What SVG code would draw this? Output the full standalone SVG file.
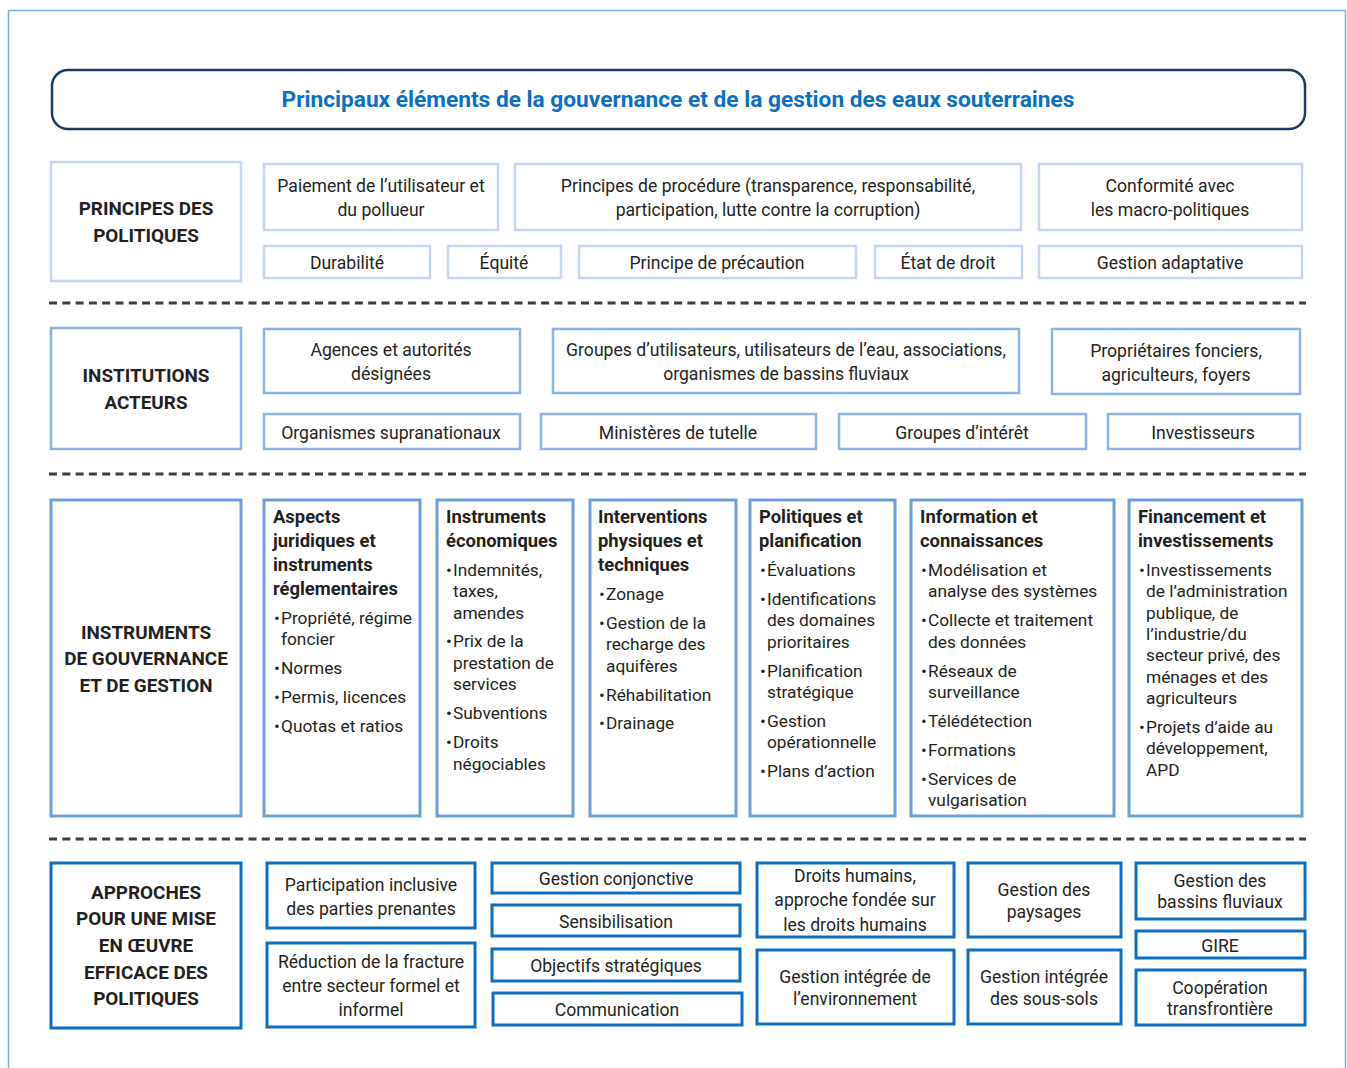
<svg xmlns="http://www.w3.org/2000/svg" width="1347" height="1068" viewBox="0 0 1347 1068">
<style>
text{font-family:Roboto,"Liberation Sans",sans-serif;fill:#231f20;font-size:17.6px}
.col text{font-size:17.3px}
.c{text-anchor:middle}
.lbl{font-weight:bold;font-size:18.9px !important;text-anchor:middle}
.col text.h{font-weight:bold;font-size:18.4px}
.title{font-weight:bold;font-size:22.7px;fill:#0b6fc1;text-anchor:middle}
.r1{fill:#fff;stroke:#c6d6ef;stroke-width:2.5}
.r2{fill:#fff;stroke:#8db3e2;stroke-width:2.5}
.r3{fill:#fff;stroke:#6a9fd8;stroke-width:3}
.r4{fill:#fff;stroke:#0b6fc1;stroke-width:3}
.dash{stroke:#3d3d3d;stroke-width:3;stroke-dasharray:8 5.3;fill:none}
</style>
<rect width="1347" height="1068" fill="#fff"/>
<path d="M8.5 1068 V10.5 H1345.5 V1068" fill="none" stroke="#7aaee0" stroke-width="1.5"/>

<g id="title">
<rect x="52" y="70" width="1253" height="59" rx="16" fill="#fff" stroke="#1d3b5e" stroke-width="2.5"/>
<text class="title" x="678" y="107">Principaux éléments de la gouvernance et de la gestion des eaux souterraines</text>
</g>

<g id="separators">
<line class="dash" x1="49" y1="303" x2="1306" y2="303"/>
<line class="dash" x1="49" y1="474" x2="1306" y2="474"/>
<line class="dash" x1="49" y1="839" x2="1306" y2="839"/>
</g>

<!-- Row 1 -->
<g id="principes"><rect class="r1" x="51" y="162" width="190" height="119"/>
<text class="lbl" x="146" y="215">PRINCIPES DES</text><text class="lbl" x="146" y="242">POLITIQUES</text></g>
<g id="paiement"><rect class="r1" x="264" y="164" width="234" height="66"/>
<text class="c" x="381" y="192">Paiement de l’utilisateur et</text><text class="c" x="381" y="216">du pollueur</text></g>
<g id="procedure"><rect class="r1" x="515" y="164" width="506" height="66"/>
<text class="c" x="768" y="192">Principes de procédure (transparence, responsabilité,</text><text class="c" x="768" y="216">participation, lutte contre la corruption)</text></g>
<g id="conformite"><rect class="r1" x="1039" y="164" width="263" height="66"/>
<text class="c" x="1170" y="192">Conformité avec</text><text class="c" x="1170" y="216">les macro-politiques</text></g>
<g id="durabilite"><rect class="r1" x="264" y="246" width="166" height="32"/><text class="c" x="347" y="269">Durabilité</text></g>
<g id="equite"><rect class="r1" x="448" y="246" width="113" height="32"/><text class="c" x="504" y="269">Équité</text></g>
<g id="precaution"><rect class="r1" x="579" y="246" width="277" height="32"/><text class="c" x="717" y="269">Principe de précaution</text></g>
<g id="etat"><rect class="r1" x="875" y="246" width="147" height="32"/><text class="c" x="948" y="269">État de droit</text></g>
<g id="adaptative"><rect class="r1" x="1039" y="246" width="263" height="32"/><text class="c" x="1170" y="269">Gestion adaptative</text></g>

<!-- Row 2 -->
<g id="institutions"><rect class="r2" x="51" y="328" width="190" height="121"/>
<text class="lbl" x="146" y="382">INSTITUTIONS</text><text class="lbl" x="146" y="409">ACTEURS</text></g>
<g id="agences"><rect class="r2" x="264" y="329" width="256" height="64"/>
<text class="c" x="391" y="356">Agences et autorités</text><text class="c" x="391" y="380">désignées</text></g>
<g id="groupes-util"><rect class="r2" x="553" y="329" width="466" height="64"/>
<text class="c" x="786" y="356">Groupes d’utilisateurs, utilisateurs de l’eau, associations,</text><text class="c" x="786" y="380">organismes de bassins fluviaux</text></g>
<g id="proprietaires"><rect class="r2" x="1052" y="329" width="248" height="65"/>
<text class="c" x="1176" y="357">Propriétaires fonciers,</text><text class="c" x="1176" y="381">agriculteurs, foyers</text></g>
<g id="supranationaux"><rect class="r2" x="264" y="414" width="256" height="35"/><text class="c" x="391" y="439">Organismes supranationaux</text></g>
<g id="ministeres"><rect class="r2" x="541" y="414" width="275" height="35"/><text class="c" x="678" y="439">Ministères de tutelle</text></g>
<g id="interet"><rect class="r2" x="839" y="414" width="247" height="35"/><text class="c" x="962" y="439">Groupes d’intérêt</text></g>
<g id="investisseurs"><rect class="r2" x="1108" y="414" width="192" height="35"/><text class="c" x="1203" y="439">Investisseurs</text></g>

<!-- Row 3 -->
<g id="instruments"><rect class="r3" x="51" y="500" width="190" height="316"/>
<text class="lbl" x="146" y="639">INSTRUMENTS</text><text class="lbl" x="146" y="665">DE GOUVERNANCE</text><text class="lbl" x="146" y="692">ET DE GESTION</text></g>

<g id="juridiques" class="col"><rect class="r3" x="264" y="500" width="156" height="316"/>
<text class="h" x="273" y="523">Aspects</text>
<text class="h" x="273" y="547">juridiques et</text>
<text class="h" x="273" y="571">instruments</text>
<text class="h" x="273" y="595">réglementaires</text>
<text y="624"><tspan x="274">•</tspan><tspan x="281">Propriété, régime</tspan></text>
<text x="281" y="645">foncier</text>
<text y="674"><tspan x="274">•</tspan><tspan x="281">Normes</tspan></text>
<text y="703"><tspan x="274">•</tspan><tspan x="281">Permis, licences</tspan></text>
<text y="732"><tspan x="274">•</tspan><tspan x="281">Quotas et ratios</tspan></text></g>

<g id="economiques" class="col"><rect class="r3" x="437" y="500" width="136" height="316"/>
<text class="h" x="446" y="523">Instruments</text>
<text class="h" x="446" y="547">économiques</text>
<text y="576"><tspan x="446">•</tspan><tspan x="453">Indemnités,</tspan></text>
<text x="453" y="597">taxes,</text>
<text x="453" y="619">amendes</text>
<text y="647"><tspan x="446">•</tspan><tspan x="453">Prix de la</tspan></text>
<text x="453" y="669">prestation de</text>
<text x="453" y="690">services</text>
<text y="719"><tspan x="446">•</tspan><tspan x="453">Subventions</tspan></text>
<text y="748"><tspan x="446">•</tspan><tspan x="453">Droits</tspan></text>
<text x="453" y="770">négociables</text></g>

<g id="interventions" class="col"><rect class="r3" x="590" y="500" width="146" height="316"/>
<text class="h" x="598" y="523">Interventions</text>
<text class="h" x="598" y="547">physiques et</text>
<text class="h" x="598" y="571">techniques</text>
<text y="600"><tspan x="599">•</tspan><tspan x="606">Zonage</tspan></text>
<text y="629"><tspan x="599">•</tspan><tspan x="606">Gestion de la</tspan></text>
<text x="606" y="650">recharge des</text>
<text x="606" y="672">aquifères</text>
<text y="701"><tspan x="599">•</tspan><tspan x="606">Réhabilitation</tspan></text>
<text y="729"><tspan x="599">•</tspan><tspan x="606">Drainage</tspan></text></g>

<g id="politiques" class="col"><rect class="r3" x="750" y="500" width="145" height="316"/>
<text class="h" x="759" y="523">Politiques et</text>
<text class="h" x="759" y="547">planification</text>
<text y="576"><tspan x="760">•</tspan><tspan x="767">Évaluations</tspan></text>
<text y="605"><tspan x="760">•</tspan><tspan x="767">Identifications</tspan></text>
<text x="767" y="626">des domaines</text>
<text x="767" y="648">prioritaires</text>
<text y="677"><tspan x="760">•</tspan><tspan x="767">Planification</tspan></text>
<text x="767" y="698">stratégique</text>
<text y="727"><tspan x="760">•</tspan><tspan x="767">Gestion</tspan></text>
<text x="767" y="748">opérationnelle</text>
<text y="777"><tspan x="760">•</tspan><tspan x="767">Plans d’action</tspan></text></g>

<g id="information" class="col"><rect class="r3" x="911" y="500" width="203" height="316"/>
<text class="h" x="920" y="523">Information et</text>
<text class="h" x="920" y="547">connaissances</text>
<text y="576"><tspan x="921">•</tspan><tspan x="928">Modélisation et</tspan></text>
<text x="928" y="597">analyse des systèmes</text>
<text y="626"><tspan x="921">•</tspan><tspan x="928">Collecte et traitement</tspan></text>
<text x="928" y="648">des données</text>
<text y="677"><tspan x="921">•</tspan><tspan x="928">Réseaux de</tspan></text>
<text x="928" y="698">surveillance</text>
<text y="727"><tspan x="921">•</tspan><tspan x="928">Télédétection</tspan></text>
<text y="756"><tspan x="921">•</tspan><tspan x="928">Formations</tspan></text>
<text y="785"><tspan x="921">•</tspan><tspan x="928">Services de</tspan></text>
<text x="928" y="806">vulgarisation</text></g>

<g id="financement" class="col"><rect class="r3" x="1129" y="500" width="173" height="316"/>
<text class="h" x="1138" y="523">Financement et</text>
<text class="h" x="1138" y="547">investissements</text>
<text y="576"><tspan x="1139">•</tspan><tspan x="1146">Investissements</tspan></text>
<text x="1146" y="597">de l’administration</text>
<text x="1146" y="619">publique, de</text>
<text x="1146" y="640">l’industrie/du</text>
<text x="1146" y="661">secteur privé, des</text>
<text x="1146" y="683">ménages et des</text>
<text x="1146" y="704">agriculteurs</text>
<text y="733"><tspan x="1139">•</tspan><tspan x="1146">Projets d’aide au</tspan></text>
<text x="1146" y="754">développement,</text>
<text x="1146" y="776">APD</text></g>

<!-- Row 4 -->
<g id="approches"><rect class="r4" x="51" y="863" width="190" height="165"/>
<text class="lbl" x="146" y="899">APPROCHES</text><text class="lbl" x="146" y="925">POUR UNE MISE</text><text class="lbl" x="146" y="952">EN ŒUVRE</text><text class="lbl" x="146" y="979">EFFICACE DES</text><text class="lbl" x="146" y="1005">POLITIQUES</text></g>
<g id="participation"><rect class="r4" x="267" y="863" width="208" height="65"/>
<text class="c" x="371" y="891">Participation inclusive</text><text class="c" x="371" y="915">des parties prenantes</text></g>
<g id="reduction"><rect class="r4" x="267" y="943" width="208" height="84"/>
<text class="c" x="371" y="968">Réduction de la fracture</text><text class="c" x="371" y="992">entre secteur formel et</text><text class="c" x="371" y="1016">informel</text></g>
<g id="conjonctive"><rect class="r4" x="492" y="863" width="248" height="30"/><text class="c" x="616" y="885">Gestion conjonctive</text></g>
<g id="sensibilisation"><rect class="r4" x="492" y="905" width="248" height="31"/><text class="c" x="616" y="928">Sensibilisation</text></g>
<g id="objectifs"><rect class="r4" x="492" y="949" width="248" height="32"/><text class="c" x="616" y="972">Objectifs stratégiques</text></g>
<g id="communication"><rect class="r4" x="493" y="993" width="249" height="32"/><text class="c" x="617" y="1016">Communication</text></g>
<g id="droits"><rect class="r4" x="757" y="863" width="197" height="74"/>
<text class="c" x="855" y="882">Droits humains,</text><text class="c" x="855" y="906">approche fondée sur</text><text class="c" x="855" y="931">les droits humains</text></g>
<g id="environnement"><rect class="r4" x="757" y="950" width="197" height="74"/>
<text class="c" x="855" y="983">Gestion intégrée de</text><text class="c" x="855" y="1005">l’environnement</text></g>
<g id="paysages"><rect class="r4" x="968" y="863" width="153" height="74"/>
<text class="c" x="1044" y="896">Gestion des</text><text class="c" x="1044" y="918">paysages</text></g>
<g id="sous-sols"><rect class="r4" x="968" y="950" width="153" height="74"/>
<text class="c" x="1044" y="983">Gestion intégrée</text><text class="c" x="1044" y="1005">des sous-sols</text></g>
<g id="bassins"><rect class="r4" x="1136" y="863" width="169" height="56"/>
<text class="c" x="1220" y="887">Gestion des</text><text class="c" x="1220" y="908">bassins fluviaux</text></g>
<g id="gire"><rect class="r4" x="1136" y="931" width="169" height="27"/><text class="c" x="1220" y="952">GIRE</text></g>
<g id="cooperation"><rect class="r4" x="1136" y="970" width="169" height="55"/>
<text class="c" x="1220" y="994">Coopération</text><text class="c" x="1220" y="1015">transfrontière</text></g>

<g id="connectors"></g>
</svg>
